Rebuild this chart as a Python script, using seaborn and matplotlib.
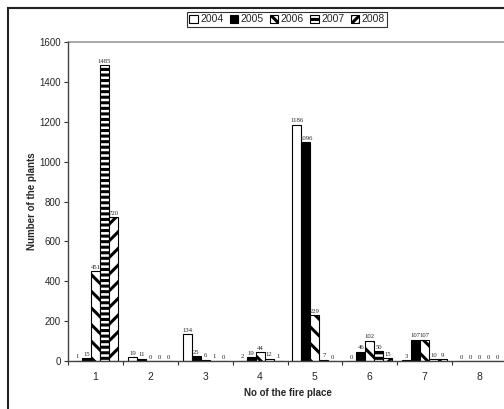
import matplotlib
matplotlib.use("Agg")
import matplotlib.pyplot as plt
from matplotlib.patches import Patch, Rectangle
import seaborn as sns
import pandas as pd

places = ["1", "2", "3", "4", "5", "6", "7", "8"]
years = ["2004", "2005", "2006", "2007", "2008"]
v2004 = [1, 19, 134, 2, 1186, 0, 3, 0]
v2005 = [15, 11, 25, 19, 1096, 46, 107, 0]
v2006 = [451, 0, 6, 44, 229, 102, 107, 0]
v2007 = [1485, 0, 1, 12, 7, 50, 10, 0]
v2008 = [720, 0, 0, 1, 0, 15, 9, 0]
yticks = [0, 200, 400, 600, 800, 1000, 1200, 1400, 1600]

series = [v2004, v2005, v2006, v2007, v2008]
rows = []
for y, vals in zip(years, series):
    for p, v in zip(places, vals):
        rows.append({"place": p, "year": y, "count": v})
df = pd.DataFrame(rows)

sns.set_theme(style="white")
plt.rcParams["font.family"] = ["Liberation Sans", "DejaVu Sans"]
plt.rcParams["hatch.linewidth"] = 2.2

fig = plt.figure(figsize=(5.04, 4.09), dpi=100)
ax = fig.add_axes([68/504, 1-361/409, 507/504 - 68/504, (361-42)/409])

facecols = ["white", "black", "white", "white", "white"]
hatches = [None, None, "\\\\", "---", "//"]
leg_hatches = [None, None, "\\\\\\", "---", "////"]

sns.barplot(data=df, x="place", y="count", hue="year", order=places,
            hue_order=years, palette=facecols, edgecolor="black",
            linewidth=0.8, width=0.82, ax=ax, legend=False, saturation=1)

for cont, h, fc in zip(ax.containers, hatches, facecols):
    for bar in cont:
        bar.set_facecolor(fc)
        bar.set_edgecolor("black")
        if h:
            bar.set_hatch(h)
    ax.bar_label(cont, fmt="%d", padding=1, fontsize=4.8,
                 family="Liberation Serif", color="#222222")

ax.set_ylim(0, 1600)
ax.set_xlim(-0.5, 7.5)
ax.set_yticks(yticks)
ax.tick_params(axis="y", which="major", direction="out", length=3, width=0.8,
               labelsize=7, pad=2, left=True, color="#333333")
ax.set_xticks(range(len(places)))
ax.set_xticklabels(places)
ax.tick_params(axis="x", which="major", length=0, labelsize=7.5, pad=8)
ax.set_xticks([i + 0.5 for i in range(-1, 8)], minor=True)
ax.tick_params(axis="x", which="minor", direction="out", length=3, width=0.8,
               bottom=True, color="#333333")

for s in ["top", "right"]:
    ax.spines[s].set_visible(False)
for s in ["left", "bottom"]:
    ax.spines[s].set_color("#444444")
    ax.spines[s].set_linewidth(1.0)
ax.axhline(1600, color="#999999", lw=1.2, clip_on=False)
ax.grid(False)

ax.set_xlabel("No of the fire place", fontsize=7, fontweight="bold", labelpad=4)
ax.set_ylabel("Number of the plants", fontsize=7, fontweight="bold", labelpad=2)

handles = [Patch(facecolor=fc, edgecolor="black", hatch=h, linewidth=0.8)
           for fc, h in zip(facecols, leg_hatches)]
leg = fig.legend(handles, years, loc="center", bbox_to_anchor=(287/504, 1-19.5/409),
                 ncol=5, fontsize=7.5, frameon=True, fancybox=False,
                 handlelength=0.8, handleheight=0.8, handletextpad=0.25,
                 columnspacing=0.6, borderpad=0.25, borderaxespad=0)
leg.get_frame().set_edgecolor("black")
leg.get_frame().set_linewidth(0.8)

fig.patches.append(Rectangle((8/504, -0.1), 1.2, 1 - 8/409 + 0.1,
                             transform=fig.transFigure, fill=False,
                             edgecolor="#222222", linewidth=1.5))

fig.savefig("out.png", dpi=100)
